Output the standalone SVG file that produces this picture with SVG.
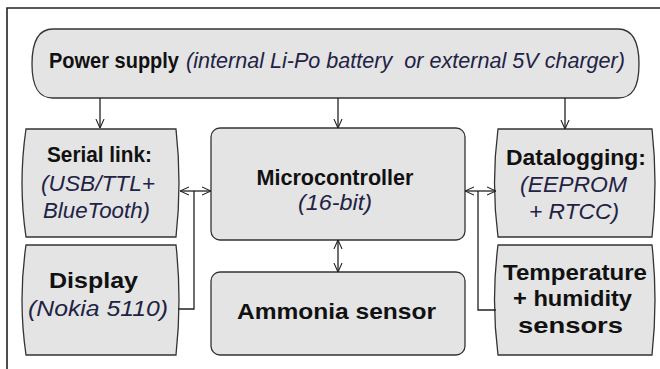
<svg xmlns="http://www.w3.org/2000/svg" width="660" height="369" viewBox="0 0 660 369">
<defs>
<marker id="arr" viewBox="0 0 10 10" refX="10" refY="5" markerWidth="9" markerHeight="10" markerUnits="userSpaceOnUse" orient="auto-start-reverse">
<path d="M0,0.5 L10,5 L0,9.5" fill="none" stroke="#222" stroke-width="1.2"/>
</marker>
<style>
.box{fill:#e4e4e4;stroke:#333;stroke-width:1.3}
.b{font-family:"Liberation Sans",Arial,sans-serif;font-weight:bold;font-size:22px;fill:#111}
.i{font-family:"Liberation Sans",Arial,sans-serif;font-style:italic;font-size:22px;fill:#222244}
.c{text-anchor:middle}
.ln{fill:none;stroke:#222;stroke-width:1.3}
</style>
</defs>
<rect width="660" height="369" fill="#fff"/>
<path d="M7,369 V8 H660" fill="none" stroke="#222" stroke-width="1.6"/>

<g id="power">
<path class="box" d="M53,29 H618 C632,29 639,40 639,64 C639,88 632,98 618,98 H53 C39,98 32,88 32,64 C32,40 39,29 53,29 Z"/>
<text class="b" x="49" y="67.5" font-size="20.5" textLength="130" lengthAdjust="spacingAndGlyphs">Power supply</text>
<text class="i" x="186" y="67.5" font-size="20.5" textLength="439" lengthAdjust="spacingAndGlyphs" xml:space="preserve">(internal Li-Po battery  or external 5V charger)</text>
</g>

<g id="serial">
<path class="box" d="M26,129 H176 Q182,183 176,237 H26 Q18,183 26,129 Z"/>
<text class="b c" x="99.5" y="162" textLength="105" lengthAdjust="spacingAndGlyphs">Serial link:</text>
<text class="i c" x="98" y="191" textLength="114" lengthAdjust="spacingAndGlyphs">(USB/TTL+</text>
<text class="i c" x="96.5" y="218" textLength="107" lengthAdjust="spacingAndGlyphs">BlueTooth)</text>
</g>

<g id="micro">
<rect class="box" x="211" y="128" width="254" height="112" rx="9"/>
<text class="b c" x="335" y="185" textLength="157" lengthAdjust="spacingAndGlyphs">Microcontroller</text>
<text class="i c" x="335" y="210" textLength="74" lengthAdjust="spacingAndGlyphs">(16-bit)</text>
</g>

<g id="datalog">
<path class="box" d="M498,129 H652 Q658,183 652,237 H498 Q491,183 498,129 Z"/>
<text class="b c" x="576" y="165" textLength="140" lengthAdjust="spacingAndGlyphs">Datalogging:</text>
<text class="i c" x="573.5" y="192" textLength="107" lengthAdjust="spacingAndGlyphs">(EEPROM</text>
<text class="i c" x="574" y="219" textLength="90" lengthAdjust="spacingAndGlyphs">+ RTCC)</text>
</g>

<g id="display">
<path class="box" d="M26,245 H176 Q182,300 176,355 H26 Q18,300 26,245 Z"/>
<text class="b c" x="93.5" y="288" textLength="89" lengthAdjust="spacingAndGlyphs">Display</text>
<text class="i c" x="98" y="316" textLength="140" lengthAdjust="spacingAndGlyphs">(Nokia 5110)</text>
</g>

<g id="ammonia">
<rect class="box" x="211" y="272" width="254" height="83" rx="9"/>
<text class="b c" x="336.5" y="319" textLength="199" lengthAdjust="spacingAndGlyphs">Ammonia sensor</text>
</g>

<g id="temp">
<path class="box" d="M498,245 H652 Q658,300 652,355 H498 Q491,300 498,245 Z"/>
<text class="b c" x="575" y="280" textLength="144" lengthAdjust="spacingAndGlyphs">Temperature</text>
<text class="b c" x="572.5" y="306" textLength="119" lengthAdjust="spacingAndGlyphs">+ humidity</text>
<text class="b c" x="570.5" y="333" textLength="105" lengthAdjust="spacingAndGlyphs">sensors</text>
</g>

<g id="connectors">
<line class="ln" x1="100" y1="98" x2="100" y2="128" marker-end="url(#arr)"/>
<line class="ln" x1="338" y1="98" x2="338" y2="128" marker-end="url(#arr)"/>
<line class="ln" x1="565" y1="98" x2="565" y2="129" marker-end="url(#arr)"/>
<line class="ln" x1="180" y1="191" x2="211" y2="191" marker-start="url(#arr)" marker-end="url(#arr)"/>
<polyline class="ln" points="194,191 194,309 178,309"/>
<line class="ln" x1="465" y1="191" x2="496" y2="191" marker-start="url(#arr)" marker-end="url(#arr)"/>
<polyline class="ln" points="478,191 478,310 496,310"/>
<line class="ln" x1="338" y1="240" x2="338" y2="272" marker-start="url(#arr)" marker-end="url(#arr)"/>
</g>
</svg>
